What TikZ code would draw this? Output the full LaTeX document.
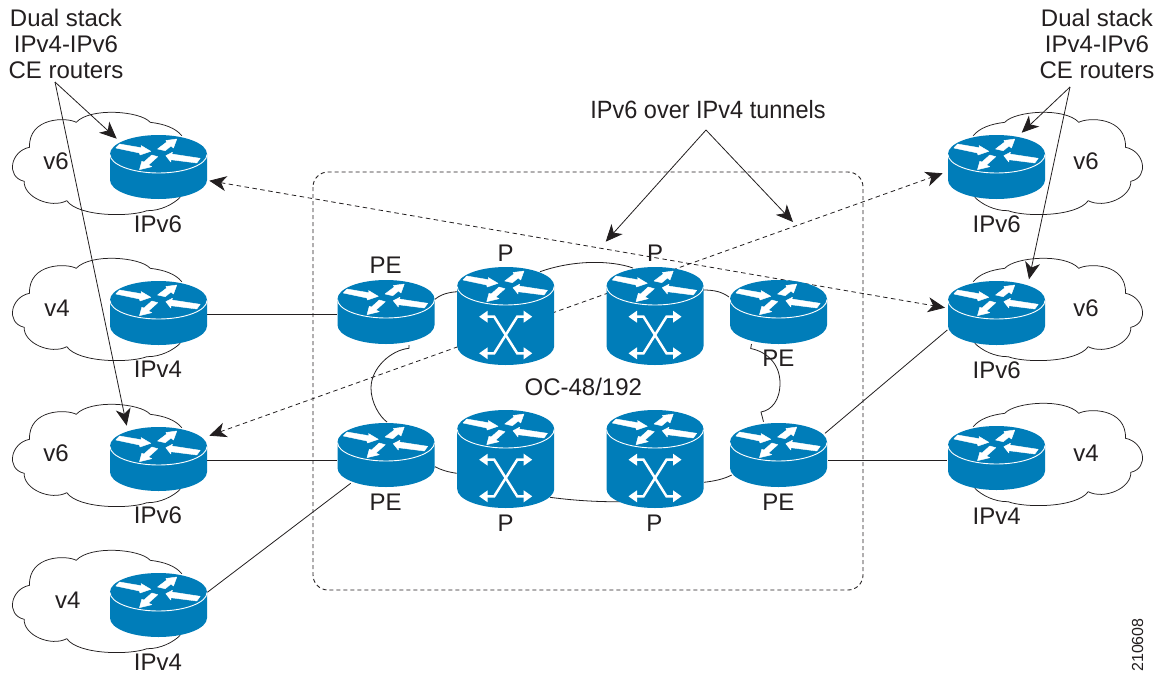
\documentclass[tikz,border=0pt]{standalone}
\usepackage{fontspec}
\setmainfont{Liberation Sans}
\usetikzlibrary{arrows.meta}
\definecolor{cisco}{HTML}{007DB9}
\definecolor{ink}{HTML}{231F20}
\newcommand{\cylbody}[1]{%
  \fill[cisco] (-48.5,0) -- (-48.5,#1) .. controls (-48.5,#1+10.5) and (-26.8,#1+19) .. (0,#1+19)
     .. controls (26.8,#1+19) and (48.5,#1+10.5) .. (48.5,#1) -- (48.5,0) -- cycle;
  \fill[cisco] (0,0) ellipse [x radius=48.5,y radius=19];
  \draw[white,line width=0.9pt] (-48.5,0.5) .. controls (-48.5,10.5) and (-26.8,19) .. (0,19)
     .. controls (26.8,19) and (48.5,10.5) .. (48.5,0.5);
  \filldraw[white,line width=0.4pt,line join=round] (-42.7,-6) -- (-39,-10) -- (-16.7,-6.2) -- (-17.5,-8.5) -- (-7.7,-2.7) -- (-18.5,1) -- (-19,-1) -- cycle;
  \filldraw[white,line width=0.4pt,line join=round] (-1,-5) -- (8.5,-12.2) -- (7.3,-13.5) -- (18.3,-15) -- (15,-6) -- (12.5,-8) -- (6.7,-3.3) -- cycle;
  \filldraw[white,line width=0.4pt,line join=round] (41.7,4.3) -- (13.3,0) -- (14,-1.8) -- (7.3,1.7) -- (12.3,8) -- (12.3,5.7) -- (38.3,9) -- cycle;
  \filldraw[white,line width=0.4pt,line join=round] (-0.7,2.7) -- (-6.7,1) -- (-14.5,8) -- (-16.7,7.3) -- (-19,15.7) -- (-6.7,12.7) -- (-10,11) -- cycle;
}
\newcommand{\xhead}[2]{\fill[white] (#1*26.5,#2) -- (#1*18,#2-6) -- (#1*18,#2+6) -- cycle;}
\tikzset{
  x=1pt,y=-1pt,
  router/.pic={\cylbody{26}},
  prouter/.pic={\cylbody{60}
    \draw[white,line width=2.5pt] (-20,30.7) -- (-11.5,30.7) -- (11.5,67.3) -- (20,67.3);
    \draw[white,line width=2.5pt] (20,30.7) -- (11.5,30.7) -- (-11.5,67.3) -- (-20,67.3);
    \xhead{-1}{30.7}\xhead{1}{30.7}\xhead{-1}{67.3}\xhead{1}{67.3}
  },
  cloudline/.style={draw=ink,line width=0.75pt},
  cloudshape/.pic={
    \draw[cloudline] (23.3,-18.3) .. controls (17,-26) and (6,-30) .. (-8.3,-31.7)
      .. controls (-18,-43) and (-68,-47) .. (-82.3,-31.7)
      .. controls (-92,-37) and (-130,-37) .. (-129,-6.7)
      .. controls (-148,-3) and (-153,23) .. (-134.3,27.3)
      .. controls (-135,43) and (-108,55) .. (-91.7,46.7)
      .. controls (-80,63) and (-28,63) .. (-11.7,56.7)
      .. controls (2,57) and (15,50) .. (21.7,43.3);
  },
  devbox/.style={inner sep=0pt,minimum width=97pt,minimum height=10pt},
  wire/.style={draw=ink,line width=0.8pt},
  leader/.style={draw=ink,line width=0.8pt,-{Stealth[length=17pt,width=15pt,inset=5pt,fill=ink]}},
  tunnel/.style={draw=ink,line width=0.8pt,dash pattern=on 4.5pt off 3.5pt,{Stealth[length=17pt,width=15pt,inset=5pt,fill=ink]}-{Stealth[length=17pt,width=15pt,inset=5pt,fill=ink]}},
  lab/.style={anchor=base,inner sep=0pt,text=ink,font=\fontsize{24}{26}\selectfont},
}
\begin{document}
\begin{tikzpicture}
\useasboundingbox (0,0) rectangle (1160,675);
\fill[white] (0,0) rectangle (1160,675);
% device anchors
\node[devbox] (L1) at (158.5,154) {};
\node[devbox] (L2) at (158.5,300) {};
\node[devbox] (L3) at (158.5,446) {};
\node[devbox] (L4) at (158.5,592) {};
\node[devbox] (R1) at (996.5,154) {};
\node[devbox] (R2) at (996.5,300) {};
\node[devbox] (R3) at (996.5,445) {};
\node[devbox] (PEa) at (386,299) {};
\node[devbox] (PEb) at (386,442) {};
\node[devbox] (PEc) at (778.5,299) {};
\node[devbox] (PEd) at (778.5,442) {};
\node[devbox] (Pa) at (505.7,286) {};
\node[devbox] (Pb) at (655,286) {};
\node[devbox] (Pc) at (505.7,429) {};
\node[devbox] (Pd) at (655,429) {};
% text nodes carrying leaders
\node[lab] (dsl) at (66,26) {Dual stack};
\node[lab] (dsl2) at (66,52) {IPv4-IPv6};
\node[lab] (dsl3) at (66,78) {CE routers};
\node[lab] (dsr) at (1097,26) {Dual stack};
\node[lab] (dsr2) at (1097,52) {IPv4-IPv6};
\node[lab] (dsr3) at (1097,78) {CE routers};
\node[lab] (tun) at (708,118) {\fontsize{25}{26}\selectfont\scalebox{0.94}[1]{IPv6 over IPv4 tunnels}};
\coordinate (tl) at (55,82);
\coordinate (tr) at (1070,87);
\coordinate (tt) at (706,130);
% clouds
\pic at (L1.center) {cloudshape};
\pic at (L2.center) {cloudshape};
\pic at (L3.center) {cloudshape};
\pic at (L4.center) {cloudshape};
\pic[xscale=-1] at (R1.center) {cloudshape};
\pic[xscale=-1] at (R2.center) {cloudshape};
\pic[xscale=-1] at (R3.center) {cloudshape};
% dashed box
\draw[wire,line width=0.9pt,dash pattern=on 4pt off 3pt,rounded corners=15pt] (313,172) rectangle (863,590);
% wires
\draw[wire] ([shift={(48.8,14.3)}]L2.center) -- ([shift={(-49,15.3)}]PEa.center);
\draw[wire] ([shift={(48.8,14)}]L3.center) -- ([shift={(-49,18)}]PEb.center);
\draw[wire] ([shift={(48.8,0.3)}]L4.center) -- ([shift={(-35.3,41.3)}]PEb.center);
\draw[wire] ([shift={(49.5,18)}]PEd.center) -- ([shift={(-49.8,15)}]R3.center);
\draw[wire] ([shift={(46.5,-8.7)}]PEd.center) -- ([shift={(-49.2,30)}]R2.center);
\draw[wire] ([shift={(49,0.3)}]PEa.center) .. controls (441,294) and (450,292) .. ([shift={(-47.5,5.7)}]Pa.center);
\draw[wire] ([shift={(34.3,-14.3)}]Pa.center) .. controls (573,260) and (610,260) .. ([shift={(-22,-18)}]Pb.center);
\draw[wire] ([shift={(48,4)}]Pb.center) .. controls (715,290) and (722,292) .. ([shift={(-49.5,-2)}]PEc.center);
\draw[wire] ([shift={(49,24.7)}]PEb.center) .. controls (441,470) and (448,472) .. ([shift={(-49,44.3)}]Pc.center);
\draw[wire] ([shift={(44.3,68.3)}]Pc.center) .. controls (570,500) and (595,502) .. ([shift={(-35,72.7)}]Pd.center);
\draw[wire] ([shift={(49,53.3)}]Pd.center) .. controls (715,481) and (724,479) .. ([shift={(-46.8,33)}]PEd.center);
\draw[wire] ([shift={(23,46)}]PEa.center) -- ++(0,3.3) .. controls (391,350) and (371,368) .. (371,388)
   .. controls (371,403) and (380,417) .. ([shift={(1,-20)}]PEb.center);
\draw[wire] ([shift={(-27,45)}]PEc.center) -- ++(-0.8,4.5) .. controls (768,352) and (780,365) .. (780,383)
   .. controls (780,400) and (772,410) .. (761,412) -- ([shift={(-15,-20.3)}]PEd.center);
% tunnels
\draw[tunnel] ([shift={(50.8,26.7)}]L1.center) -- ([shift={(-51.5,7.7)}]R2.center);
\draw[tunnel] ([shift={(50.8,-10.3)}]L3.center) -- ([shift={(-53.8,19.3)}]R1.center);
% routers
\pic at (L1.center) {router};
\pic at (L2.center) {router};
\pic at (L3.center) {router};
\pic at (L4.center) {router};
\pic at (R1.center) {router};
\pic at (R2.center) {router};
\pic at (R3.center) {router};
\pic at (PEa.center) {router};
\pic at (PEb.center) {router};
\pic at (PEc.center) {router};
\pic at (PEd.center) {router};
\pic at (Pa.center) {prouter};
\pic at (Pb.center) {prouter};
\pic at (Pc.center) {prouter};
\pic at (Pd.center) {prouter};
% leaders
\draw[leader] (tl) -- ([shift={(-41.8,-15.3)}]L1.center);
\draw[leader] (tl) -- ([shift={(-31.8,-20.3)}]L3.center);
\draw[leader] (tr) -- ([shift={(25.2,-21.3)}]R1.center);
\draw[leader] (tr) -- ([shift={(32.5,-20.7)}]R2.center);
\draw[leader] (tt) -- ([shift={(100,-44.3)}]Pa.center);
\draw[leader] (tt) -- ([shift={(138,-64)}]Pb.center);
% labels
\node[lab] (a1) at (158,232) {IPv6};
\node[lab] (a2) at (158,377.3) {IPv4};
\node[lab] (a3) at (158,523.3) {IPv6};
\node[lab] (a4) at (158,670) {IPv4};
\node[lab] (b1) at (56,169.3) {v6};
\node[lab] (b2) at (57,316) {v4};
\node[lab] (b3) at (56,461.7) {v6};
\node[lab] (b4) at (67.7,608.3) {v4};
\node[lab] (c1) at (1086,169.3) {v6};
\node[lab] (c2) at (1086,316) {v6};
\node[lab] (c3) at (1086,461.7) {v4};
\node[lab] (d1) at (996.7,232.7) {IPv6};
\node[lab] (d2) at (996.7,378.3) {IPv6};
\node[lab] (d3) at (996.7,524.3) {IPv4};
\node[lab] (e1) at (385.7,273.3) {PE};
\node[lab] (e2) at (385.7,510.5) {PE};
\node[lab] (e3) at (778.3,366) {PE};
\node[lab] (e4) at (778.3,510.7) {PE};
\node[lab] (f1) at (505.7,261.7) {P};
\node[lab] (f2) at (655,261.7) {P};
\node[lab] (f3) at (505.7,531) {P};
\node[lab] (f4) at (654.3,531) {P};
\node[lab] (oc) at (583.3,395.7) {OC-48/192};
\node[text=ink,inner sep=0pt,rotate=90,font=\fontsize{16}{16}\selectfont] (id) at (1137.5,645) {210608};
\end{tikzpicture}
\end{document}
